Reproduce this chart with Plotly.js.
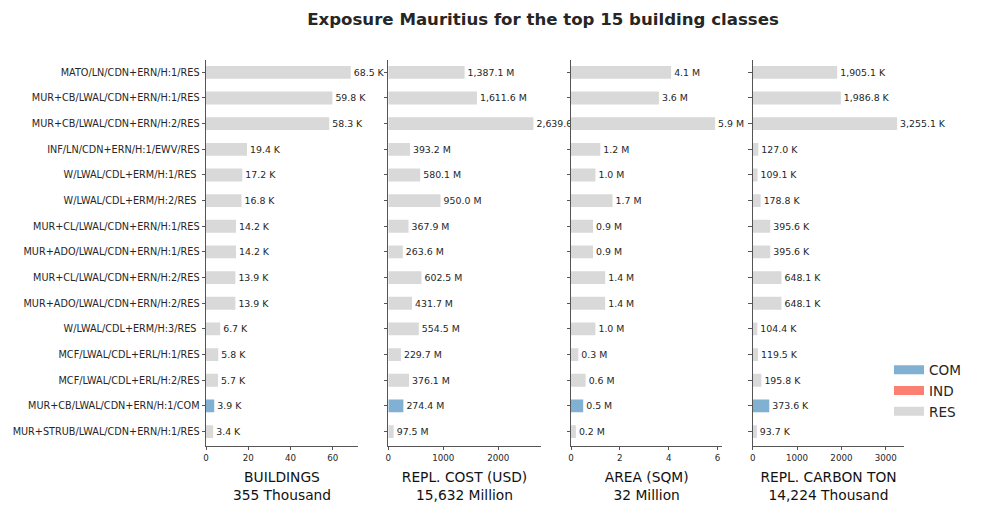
<!DOCTYPE html>
<html>
<head>
<meta charset="utf-8">
<script src="https://cdn.plot.ly/plotly-3.0.1.min.js"></script>
<style>html,body{margin:0;padding:0;background:#fff;}#chart{width:981px;height:510px;}</style>
</head>
<body>
<div id="chart"></div>
<script>
// ---- data ----
const categories = [
  "MATO/LN/CDN+ERN/H:1/RES",
  "MUR+CB/LWAL/CDN+ERN/H:1/RES",
  "MUR+CB/LWAL/CDN+ERN/H:2/RES",
  "INF/LN/CDN+ERN/H:1/EWV/RES",
  "W/LWAL/CDL+ERM/H:1/RES ",
  "W/LWAL/CDL+ERM/H:2/RES ",
  "MUR+CL/LWAL/CDN+ERN/H:1/RES",
  "MUR+ADO/LWAL/CDN+ERN/H:1/RES",
  "MUR+CL/LWAL/CDN+ERN/H:2/RES",
  "MUR+ADO/LWAL/CDN+ERN/H:2/RES",
  "W/LWAL/CDL+ERM/H:3/RES ",
  "MCF/LWAL/CDL+ERL/H:1/RES",
  "MCF/LWAL/CDL+ERL/H:2/RES",
  "MUR+CB/LWAL/CDN+ERN/H:1/COM",
  "MUR+STRUB/LWAL/CDN+ERN/H:1/RES"
];
const occupancy = ["RES","RES","RES","RES","RES","RES","RES","RES","RES","RES","RES","RES","RES","COM","RES"];
const buildingsK = [68.5, 59.8, 58.3, 19.4, 17.2, 16.8, 14.2, 14.2, 13.9, 13.9, 6.7, 5.8, 5.7, 3.9, 3.4];
const costM      = [1387.1, 1611.6, 2639.0, 393.2, 580.1, 950.0, 367.9, 263.6, 602.5, 431.7, 554.5, 229.7, 376.1, 274.4, 97.5];
const areaM      = [4.1, 3.6, 5.9, 1.2, 1.0, 1.7, 0.9, 0.9, 1.4, 1.4, 1.0, 0.3, 0.6, 0.5, 0.2];
const carbonK    = [1905.1, 1986.8, 3255.1, 127.0, 109.1, 178.8, 395.6, 395.6, 648.1, 648.1, 104.4, 119.5, 195.8, 373.6, 93.7];
const legendClasses = ["COM", "IND", "RES"];
const panelTitles = ["BUILDINGS<br>355 Thousand", "REPL. COST (USD)<br>15,632 Million", "AREA (SQM)<br>32 Million", "REPL. CARBON TON<br>14,224 Thousand"];
const panelUnits = ["K", "M", "M", "K"];
const chartTitle = "Exposure Mauritius for the top 15 building classes";

// ---- styling ----
const classColors = {COM: "#80b1d3", IND: "#fb8072", RES: "#d9d9d9"};
const FONT = "DejaVu Sans, sans-serif";
const W = 981, H = 510;
const panelPx = [[206, 358], [388.3, 540.7], [571, 722.3], [752.7, 904.3]];
const dticks = [20, 1000, 2, 1000];
const yTop = 60, yBot = 445.7;
const spine = "#555555";
const series = [buildingsK, costM, areaM, carbonK];

const traces = [];
const layout = {
  width: W, height: H,
  margin: {l: 0, r: 0, t: 0, b: 0},
  paper_bgcolor: "#fff", plot_bgcolor: "#fff",
  font: {family: FONT, size: 9, color: "#262626"},
  barmode: "overlay",
  showlegend: true,
  title: {text: "<b>" + chartTitle + "</b>", font: {family: FONT, size: 16.6, color: "#262626"},
          x: 543 / W, xanchor: "center", y: 1 - 19 / H, yanchor: "middle", xref: "paper", yref: "paper"},
  legend: {x: 889 / W, y: 1 - 391 / H, xanchor: "left", yanchor: "middle", font: {family: FONT, size: 13.6, color: "#262626"},
           bgcolor: "rgba(0,0,0,0)", tracegroupgap: 0, itemwidth: 30}
};

series.forEach((vals, i) => {
  const sfx = i === 0 ? "" : String(i + 1);
  traces.push({
    type: "bar", orientation: "h",
    x: vals, y: categories,
    xaxis: "x" + sfx, yaxis: "y" + sfx,
    width: 0.5,
    marker: {color: occupancy.map(c => classColors[c]), line: {width: 0}},
    texttemplate: "%{x:,.1f} " + panelUnits[i],
    textposition: "outside", cliponaxis: false, constraintext: "none",
    textfont: {family: FONT, size: 9.4, color: "#262626"},
    showlegend: false, hoverinfo: "skip"
  });
  const maxV = Math.max(...vals);
  layout["xaxis" + sfx] = {
    domain: [panelPx[i][0] / W, panelPx[i][1] / W],
    anchor: "y" + sfx,
    range: [0, maxV * 1.05], dtick: dticks[i], tick0: 0,
    showgrid: false, zeroline: false,
    showline: true, linecolor: spine, linewidth: 1,
    ticks: "outside", ticklen: 3.5, tickcolor: spine, tickwidth: 1,
    tickfont: {family: FONT, size: 8.7, color: "#262626"},
    title: {text: panelTitles[i], font: {family: FONT, size: 13.8, color: "#111"}, standoff: 10},
    automargin: false, fixedrange: true
  };
  layout["yaxis" + sfx] = {
    domain: [1 - yBot / H, 1 - yTop / H],
    anchor: "x" + sfx,
    type: "category",
    categoryorder: "array", categoryarray: categories,
    range: [14.55, -0.48],
    showgrid: false, zeroline: false,
    showline: true, linecolor: spine, linewidth: 1,
    ticks: "outside", ticklen: 3.5, tickcolor: spine, tickwidth: 1,
    showticklabels: i === 0,
    tickfont: {family: FONT, size: 9.7, color: "#262626"},
    automargin: false, fixedrange: true
  };
});

legendClasses.forEach(c => {
  traces.push({
    type: "scatter", mode: "lines", x: [null], y: [null],
    xaxis: "x", yaxis: "y",
    name: c, line: {color: classColors[c], width: 9},
    showlegend: true, hoverinfo: "skip"
  });
});

Plotly.newPlot("chart", traces, layout, {displayModeBar: false, staticPlot: true});
</script>
</body>
</html>
